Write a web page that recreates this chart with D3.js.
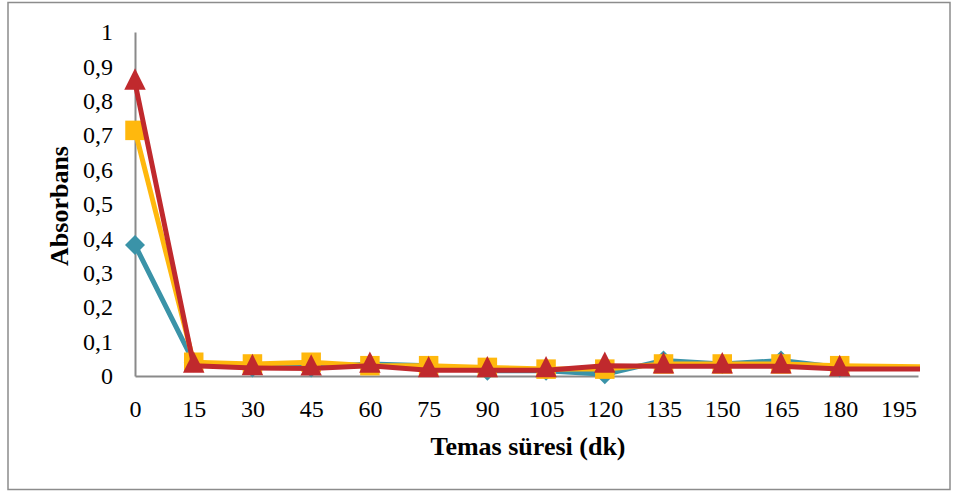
<!DOCTYPE html>
<html>
<head>
<meta charset="utf-8">
<script src="https://cdn.jsdelivr.net/npm/d3@7"></script>
<style>
  html, body { margin: 0; padding: 0; background: #fff; }
  svg { display: block; }
  text { font-family: "Liberation Serif", "Times New Roman", serif; fill: #000; }
</style>
</head>
<body>
<svg id="chart" width="960" height="495"></svg>
<script>
// Contact time (minutes); the last sample lies past the axis end and is clipped
const times = [0, 15, 30, 45, 60, 75, 90, 105, 120, 135, 150, 165, 180, 210];
const tickTimes = [0, 15, 30, 45, 60, 75, 90, 105, 120, 135, 150, 165, 180, 195];
const yTicks = [0, 0.1, 0.2, 0.3, 0.4, 0.5, 0.6, 0.7, 0.8, 0.9, 1];

// Absorbance readings of the three series
const seriesBlue   = [0.381, 0.04, 0.025, 0.025, 0.035, 0.03, 0.015, 0.015, 0.005, 0.045, 0.035, 0.045, 0.025, 0.025];
const seriesOrange = [0.714, 0.04, 0.035, 0.04, 0.03, 0.03, 0.025, 0.02, 0.02, 0.035, 0.035, 0.035, 0.03, 0.025];
const seriesRed    = [0.853, 0.03, 0.023, 0.022, 0.03, 0.017, 0.017, 0.017, 0.03, 0.028, 0.028, 0.028, 0.02, 0.02];

const series = [
  { values: seriesBlue,   color: "#3a93a8", marker: "diamond" },
  { values: seriesOrange, color: "#ffb80d", marker: "square" },
  { values: seriesRed,    color: "#c0292d", marker: "triangle" }
];

const svg = d3.select("#chart");
const margin = { left: 135, right: 42, top: 32, bottom: 119 };
const W = 960, H = 495;

// outer frame
svg.append("rect")
  .attr("x", 8).attr("y", 2.5).attr("width", 942).attr("height", 487)
  .attr("fill", "#fff").attr("stroke", "#8c8c8c").attr("stroke-width", 1.5);

const x = d3.scaleLinear().domain([0, 200]).range([margin.left, W - margin.right]);
const y = d3.scaleLinear().domain([0, 1]).range([H - margin.bottom, margin.top]);

svg.append("defs").append("clipPath").attr("id", "plotClip")
  .append("rect")
  .attr("x", x(0) - 20).attr("y", 0)
  .attr("width", x(200) - x(0) + 20 + 2).attr("height", y(0) + 20);

// axes
const yAxis = d3.axisLeft(y).tickValues(yTicks).tickSize(0).tickPadding(22)
  .tickFormat(d => String(d3.format("~g")(d)).replace(".", ","));
const gy = svg.append("g").attr("transform", `translate(${x(0)},0)`).call(yAxis);
gy.attr("font-family", null).attr("font-size", null);
gy.select(".domain").attr("stroke", "#8a8a8a").attr("stroke-width", 2);
gy.selectAll("text").style("font-size", "24px");

const xAxis = d3.axisBottom(x).tickValues(tickTimes).tickSize(0).tickPadding(24);
const gx = svg.append("g").attr("transform", `translate(0,${y(0)})`).call(xAxis);
gx.attr("font-family", null).attr("font-size", null);
gx.select(".domain").attr("stroke", "#8a8a8a").attr("stroke-width", 2);
gx.selectAll("text").style("font-size", "24px");

// axis titles
svg.append("text")
  .attr("x", 528).attr("y", 455)
  .attr("text-anchor", "middle")
  .style("font-size", "26px").style("font-weight", "bold")
  .text("Temas süresi (dk)");

svg.append("text")
  .attr("transform", "translate(68,206) rotate(-90)")
  .attr("text-anchor", "middle")
  .style("font-size", "26px").style("font-weight", "bold")
  .text("Absorbans");

// series lines and markers
const plot = svg.append("g").attr("clip-path", "url(#plotClip)");
const line = d3.line().x((d, i) => x(times[i])).y(d => y(d));

const symbolOf = {
  diamond: d3.symbol().type(d3.symbolSquare).size(200),
  square: d3.symbol().type(d3.symbolSquare).size(380),
  triangle: d3.symbol().type(d3.symbolTriangle).size(200)
};

series.forEach(s => {
  const g = plot.append("g");
  g.append("path")
    .datum(s.values)
    .attr("fill", "none")
    .attr("stroke", s.color)
    .attr("stroke-width", 5)
    .attr("stroke-linejoin", "round")
    .attr("d", line);
  g.selectAll("path.marker")
    .data(s.values)
    .join("path")
    .attr("class", "marker")
    .attr("fill", s.color)
    .attr("d", symbolOf[s.marker])
    .attr("transform", (d, i) => {
      const base = `translate(${x(times[i])},${y(d)})`;
      if (s.marker === "diamond") return base + " rotate(45)";
      if (s.marker === "triangle") return base + " scale(1,1.15)";
      return base;
    });
});
</script>
</body>
</html>
